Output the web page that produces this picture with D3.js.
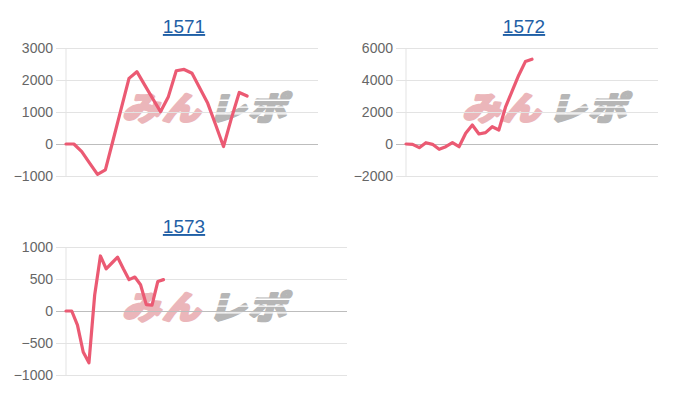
<!DOCTYPE html>
<html>
<head>
<meta charset="utf-8">
<script src="https://cdn.jsdelivr.net/npm/d3@7"></script>
<style>
  body { margin: 0; background: #fff; }
  svg { display: block; font-family: Arial, "Liberation Sans", sans-serif; }
</style>
</head>
<body>
<svg id="svg" width="700" height="400"></svg>
<script>
// data
var titles = ['1571', '1572', '1573'];
var values1571 = [0, 0, -240, -600, -950, -810, 140, 1100, 2050, 2260, 1840, 1420, 1010, 1480,
                  2290, 2330, 2210, 1740, 1270, 600, -80, 800, 1610, 1500];
var values1572 = [0, -20, -230, 80, -20, -330, -170, 80, -170, 670, 1190, 625, 710, 1080, 875,
                  2300, 3300, 4300, 5150, 5300];
var values1573 = [0, 0, -220, -640, -810, 250, 860, 660, 750, 840, 660, 490, 530, 410, 100, 90, 460, 490];
var ticks1571 = [-1000, 0, 1000, 2000, 3000];
var ticks1572 = [-2000, 0, 2000, 4000, 6000];
var ticks1573 = [-1000, -500, 0, 500, 1000];
var slots = [32, 38, 49];   // number of x slots per chart

var panels = [
    {title: titles[0], values: values1571, ticks: ticks1571, slots: slots[0],
     left: 66, right: 318, top: 48, bottom: 176, titleX: 184, titleY: 33},
    {title: titles[1], values: values1572, ticks: ticks1572, slots: slots[1],
     left: 406, right: 658, top: 48, bottom: 176, titleX: 524, titleY: 33},
    {title: titles[2], values: values1573, ticks: ticks1573, slots: slots[2],
     left: 66, right: 347, top: 247, bottom: 375, titleX: 184, titleY: 233}
];

var svg = d3.select('svg');

panels.forEach(function (p) {
    var g = svg.append('g');

    var x = d3.scaleLinear()
        .domain([0, p.slots])
        .range([p.left, p.right]);

    var y = d3.scaleLinear()
        .domain(d3.extent(p.ticks))
        .range([p.bottom, p.top]);

    // title
    g.append('text')
        .text(p.title)
        .attr('x', p.titleX)
        .attr('y', p.titleY)
        .attr('text-anchor', 'middle')
        .attr('font-size', 19)
        .attr('fill', '#1f5fa6')
        .style('text-decoration', 'underline');

    // watermark (みんレポ)
    var wm = g.append('g')
        .attr('transform', 'translate(' + (p.left + 56) + ',' + (p.top + 72) + ') skewX(-16) scale(1,0.85)');
    wm.append('text')
        .text('みん')
        .attr('x', 0)
        .attr('y', 0)
        .attr('font-family', '"Noto Sans CJK JP", sans-serif')
        .attr('font-weight', 'bold')
        .attr('font-size', 38)
        .attr('textLength', 78)
        .attr('fill', '#ebb6ba')
        .attr('stroke', '#ebb6ba')
        .attr('stroke-width', 3.5)
        .attr('stroke-linejoin', 'round');
    wm.append('text')
        .text('レポ')
        .attr('x', 86)
        .attr('y', 0)
        .attr('font-family', '"Noto Sans CJK JP", sans-serif')
        .attr('font-weight', 'bold')
        .attr('font-size', 38)
        .attr('textLength', 78)
        .attr('fill', '#b6b6b6')
        .attr('stroke', '#b6b6b6')
        .attr('stroke-width', 3.5)
        .attr('stroke-linejoin', 'round');
    [-24, -16, -8].forEach(function (dy) {
        wm.append('rect')
            .attr('x', 82)
            .attr('y', dy)
            .attr('width', 90)
            .attr('height', 1.6)
            .attr('fill', '#fff');
    });

    // gridlines + labels
    var axis = g.append('g')
        .attr('transform', 'translate(' + (p.left - 10) + ',0)')
        .call(d3.axisLeft(y)
            .tickValues(p.ticks)
            .tickFormat(d3.format('d'))
            .tickSize(-(p.right - p.left + 10))
            .tickPadding(3));
    axis.select('.domain').remove();
    axis.selectAll('.tick line')
        .attr('stroke', function (d) { return d === 0 ? '#bdbdbd' : '#e3e3e3'; })
        .attr('stroke-width', 1);
    axis.selectAll('.tick text')
        .attr('font-size', 14)
        .attr('font-family', 'Arial, "Liberation Sans", sans-serif')
        .attr('fill', '#666');

    // y axis line
    g.append('line')
        .attr('x1', p.left)
        .attr('x2', p.left)
        .attr('y1', p.top)
        .attr('y2', p.bottom + 1)
        .attr('stroke', '#e3e3e3');

    var line = d3.line()
        .x(function (d, i) { return x(i); })
        .y(function (d) { return y(d); });

    g.append('path')
        .datum(p.values)
        .attr('d', line)
        .attr('fill', 'none')
        .attr('stroke', '#eb5a73')
        .attr('stroke-width', 3.2)
        .attr('stroke-linejoin', 'round')
        .attr('stroke-linecap', 'round');
});
</script>
</body>
</html>
